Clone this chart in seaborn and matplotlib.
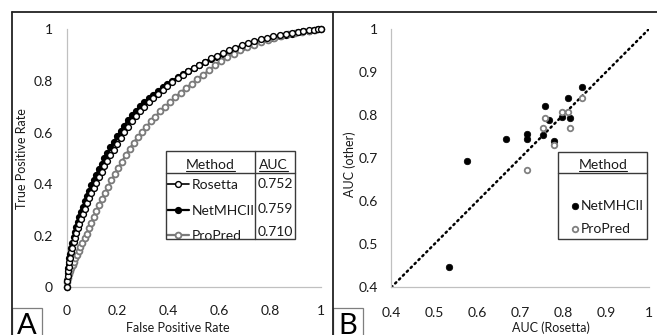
import matplotlib
matplotlib.use("Agg")
import matplotlib.pyplot as plt
import seaborn as sns
from matplotlib.lines import Line2D
from matplotlib.patches import Rectangle

# ---- panel A: ROC curves ----
rosetta_fpr = [0, 0.002, 0.004, 0.006, 0.008, 0.011, 0.014, 0.018, 0.022, 0.027, 0.032, 0.038,
               0.044, 0.050, 0.057, 0.064, 0.072, 0.080, 0.088, 0.097, 0.106, 0.116, 0.126,
               0.137, 0.148, 0.160, 0.172, 0.185, 0.198, 0.212, 0.226, 0.241, 0.256, 0.272,
               0.288, 0.305, 0.322, 0.340, 0.358, 0.377, 0.396, 0.416, 0.436, 0.457, 0.478,
               0.500, 0.522, 0.545, 0.568, 0.591, 0.615, 0.639, 0.663, 0.688, 0.713, 0.738,
               0.763, 0.788, 0.813, 0.838, 0.862, 0.886, 0.909, 0.931, 0.952, 0.971, 0.987, 1.0]
rosetta_tpr = [0, 0.025, 0.045, 0.062, 0.078, 0.097, 0.114, 0.135, 0.154, 0.175, 0.193, 0.212,
               0.230, 0.247, 0.266, 0.285, 0.305, 0.325, 0.345, 0.366, 0.386, 0.406, 0.427,
               0.448, 0.469, 0.490, 0.511, 0.533, 0.555, 0.578, 0.601, 0.622, 0.643, 0.663,
               0.682, 0.700, 0.717, 0.734, 0.750, 0.766, 0.781, 0.796, 0.810, 0.824, 0.838,
               0.851, 0.863, 0.875, 0.887, 0.898, 0.909, 0.919, 0.929, 0.938, 0.946, 0.954,
               0.961, 0.967, 0.973, 0.978, 0.983, 0.987, 0.991, 0.994, 0.997, 0.999, 1.0, 1.0]

netmhc_fpr = [0, 0.002, 0.004, 0.006, 0.008, 0.011, 0.014, 0.018, 0.022, 0.027, 0.032, 0.038,
              0.044, 0.050, 0.057, 0.064, 0.072, 0.080, 0.088, 0.097, 0.106, 0.116, 0.126,
              0.137, 0.148, 0.160, 0.172, 0.185, 0.198, 0.212, 0.226, 0.241, 0.256, 0.272,
              0.288, 0.305, 0.322, 0.340, 0.358, 0.377, 0.396, 0.416, 0.436, 0.457, 0.478,
              0.500, 0.522, 0.545, 0.568, 0.591, 0.615, 0.639, 0.663, 0.688, 0.713, 0.738,
              0.763, 0.788, 0.813, 0.838, 0.862, 0.886, 0.909, 0.931, 0.952, 0.971, 0.987, 1.0]
netmhc_tpr = [0, 0.030, 0.055, 0.074, 0.091, 0.112, 0.130, 0.152, 0.172, 0.194, 0.213, 0.234,
              0.254, 0.272, 0.292, 0.312, 0.333, 0.354, 0.374, 0.395, 0.416, 0.437, 0.458,
              0.479, 0.500, 0.521, 0.542, 0.564, 0.585, 0.606, 0.627, 0.647, 0.666, 0.684,
              0.701, 0.717, 0.732, 0.747, 0.761, 0.775, 0.788, 0.801, 0.814, 0.826, 0.838,
              0.850, 0.861, 0.872, 0.883, 0.893, 0.903, 0.913, 0.922, 0.931, 0.939, 0.947,
              0.954, 0.961, 0.967, 0.973, 0.978, 0.983, 0.988, 0.992, 0.995, 0.998, 1.0, 1.0]

propred_fpr = [0, 0.003, 0.006, 0.010, 0.014, 0.018, 0.023, 0.028, 0.034, 0.040, 0.047, 0.054,
               0.062, 0.070, 0.079, 0.088, 0.097, 0.107, 0.117, 0.128, 0.139, 0.151, 0.163,
               0.176, 0.189, 0.203, 0.217, 0.232, 0.247, 0.263, 0.279, 0.296, 0.313, 0.331,
               0.349, 0.368, 0.387, 0.407, 0.427, 0.448, 0.469, 0.491, 0.513, 0.536, 0.559,
               0.583, 0.607, 0.632, 0.657, 0.683, 0.709, 0.736, 0.763, 0.790, 0.817, 0.844,
               0.871, 0.898, 0.925, 0.952, 0.976, 1.0]
propred_tpr = [0, 0.020, 0.035, 0.050, 0.062, 0.073, 0.086, 0.098, 0.112, 0.126, 0.140, 0.155,
               0.172, 0.190, 0.208, 0.228, 0.250, 0.273, 0.297, 0.320, 0.343, 0.366, 0.390,
               0.415, 0.438, 0.463, 0.487, 0.512, 0.537, 0.560, 0.582, 0.602, 0.622, 0.643,
               0.662, 0.682, 0.700, 0.718, 0.737, 0.755, 0.772, 0.789, 0.806, 0.823, 0.841,
               0.860, 0.878, 0.893, 0.906, 0.919, 0.931, 0.941, 0.951, 0.960, 0.968, 0.975,
               0.981, 0.986, 0.991, 0.995, 0.998, 1.0]

methods = ["Rosetta", "NetMHCII", "ProPred"]
auc_text = ["0.752", "0.759", "0.710"]
roc_ticks = [0, 0.2, 0.4, 0.6, 0.8, 1]
roc_labels = ["0", "0.2", "0.4", "0.6", "0.8", "1"]

# ---- panel B: per-set AUC vs Rosetta ----
net_x = [0.534, 0.576, 0.667, 0.717, 0.717, 0.754, 0.758, 0.767, 0.779, 0.799, 0.813, 0.817, 0.845]
net_y = [0.447, 0.693, 0.746, 0.756, 0.744, 0.754, 0.822, 0.788, 0.741, 0.796, 0.841, 0.794, 0.865]
pro_x = [0.717, 0.754, 0.758, 0.779, 0.797, 0.813, 0.817, 0.845]
pro_y = [0.673, 0.770, 0.794, 0.731, 0.807, 0.807, 0.770, 0.841]
diag = [0.4, 1.0]
auc_ticks = [0.4, 0.5, 0.6, 0.7, 0.8, 0.9, 1]
auc_labels = ["0.4", "0.5", "0.6", "0.7", "0.8", "0.9", "1"]

W, H = 657, 335
GREY = "#7f7f7f"
TXT = "#1a1a1a"


def fx(px):
    return px / W


def fy(py):
    return 1 - py / H


sns.set_style("white")
plt.rcParams["font.family"] = ["Lato", "DejaVu Sans"]

fig = plt.figure(figsize=(W / 100, H / 100), dpi=100)
ax_a = fig.add_axes([fx(66.7), fy(287.3), (321 - 66.7) / W, 258 / H])
ax_b = fig.add_axes([fx(391.3), fy(287.3), (648.7 - 391.3) / W, 258 / H])

# ROC curves
sns.lineplot(x=netmhc_fpr, y=netmhc_tpr, ax=ax_a, color="black", linewidth=1.6, marker="o",
             markersize=4, markerfacecolor="black", markeredgecolor="black", markeredgewidth=1.2,
             estimator=None, sort=False, clip_on=False, zorder=3)
h_net = ax_a.lines[-1]
sns.lineplot(x=propred_fpr, y=propred_tpr, ax=ax_a, color="#7a7a7a", linewidth=1.6, marker="o",
             markersize=4.2, markerfacecolor="white", markeredgecolor="#7a7a7a", markeredgewidth=1.3,
             estimator=None, sort=False, clip_on=False, zorder=3)
h_pro = ax_a.lines[-1]
sns.lineplot(x=rosetta_fpr, y=rosetta_tpr, ax=ax_a, color="black", linewidth=1.2, marker="o",
             markersize=4.2, markerfacecolor="white", markeredgecolor="black", markeredgewidth=1.0,
             estimator=None, sort=False, clip_on=False, zorder=4)
h_ros = ax_a.lines[-1]

ax_a.set_xlim(0, 1)
ax_a.set_ylim(0, 1)
ax_a.set_xticks(roc_ticks, roc_labels)
ax_a.set_yticks(roc_ticks, roc_labels)
ax_a.set_xticks([0.1, 0.3, 0.5, 0.7, 0.9], minor=True)
ax_a.set_yticks([0.1, 0.3, 0.5, 0.7, 0.9], minor=True)

# scatter of AUCs
ax_b.plot(diag, diag, color="black", linestyle=(0, (0.6, 1.6)), linewidth=1.8,
          dash_capstyle="round", zorder=2)
sns.scatterplot(x=net_x, y=net_y, ax=ax_b, color="black", edgecolor="black", s=22,
                linewidth=0.5, label="NetMHCII", zorder=3)
sns.scatterplot(x=pro_x, y=pro_y, ax=ax_b, color="white", edgecolor="#808080", s=16,
                linewidth=1.3, label="ProPred", zorder=3)
ax_b.set_xlim(0.4, 1)
ax_b.set_ylim(0.4, 1)
ax_b.set_xticks(auc_ticks, auc_labels)
ax_b.set_yticks(auc_ticks, auc_labels)

for ax, xpad, ypad in [(ax_a, 10, 7), (ax_b, 11, 6.5)]:
    for side in ["top", "right"]:
        ax.spines[side].set_visible(False)
    for side in ["left", "bottom"]:
        ax.spines[side].set_color("#c0c0c0")
        ax.spines[side].set_linewidth(0.9)
    ax.tick_params(axis="both", which="both", direction="out", length=3, width=0.9,
                   color="#c0c0c0", labelsize=10, labelcolor=TXT)
    ax.tick_params(axis="x", which="major", pad=xpad)
    ax.tick_params(axis="y", which="major", pad=ypad)
    ax.set_xlabel("")
    ax.set_ylabel("")

# axis titles
fig.text(fx(178), fy(328.5), "False Positive Rate", ha="center", va="center", fontsize=9, color=TXT)
fig.text(fx(21.7), fy(158.5), "True Positive Rate", ha="center", va="center", rotation=90,
         fontsize=9, color=TXT)
fig.text(fx(551), fy(328), "AUC (Rosetta)", ha="center", va="center", fontsize=9, color=TXT)
fig.text(fx(350), fy(164.5), "AUC (other)", ha="center", va="center", rotation=90,
         fontsize=9, color=TXT)

# legend table, panel A
box_col = "#3a3a3a"
fig.add_artist(Rectangle((fx(166), fy(239)), (295 - 166) / W, (239 - 151) / H, fill=False,
                         edgecolor=box_col, linewidth=1.0, transform=fig.transFigure, zorder=6))
fig.add_artist(Line2D([fx(166), fx(295)], [fy(173.3), fy(173.3)], color=box_col, linewidth=1.0))
fig.add_artist(Line2D([fx(255), fx(255)], [fy(151), fy(239)], color=box_col, linewidth=1.0))
t_meth_a = fig.text(fx(210.5), fy(165), "Method", ha="center", va="center", fontsize=10, color=TXT)
t_auc = fig.text(fx(273.7), fy(165), "AUC", ha="center", va="center", fontsize=10, color=TXT)
leg_a = ax_a.legend([h_ros, h_net, h_pro], methods, loc="upper left",
                    bbox_to_anchor=(fx(165), fy(177)), bbox_transform=fig.transFigure,
                    frameon=False, fontsize=10, handlelength=1.6, handletextpad=0.15,
                    labelspacing=0.97, borderpad=0.15, borderaxespad=0, labelcolor=TXT)
for yy, txt in zip([183.7, 209, 231.7], auc_text):
    fig.text(fx(257.5), fy(yy), txt, ha="left", va="center", fontsize=10, color=TXT)

# legend box, panel B
fig.add_artist(Rectangle((fx(558), fy(239)), (647 - 558) / W, (239 - 152) / H, fill=False,
                         edgecolor=box_col, linewidth=1.0, transform=fig.transFigure, zorder=6))
fig.add_artist(Line2D([fx(558), fx(647)], [fy(173.3), fy(173.3)], color=box_col, linewidth=1.0))
t_meth_b = fig.text(fx(603), fy(165), "Method", ha="center", va="center", fontsize=10, color=TXT)
handles_b, labels_b = ax_b.get_legend_handles_labels()
ax_b.legend(handles_b, labels_b, loc="upper left", bbox_to_anchor=(fx(572), fy(200)),
            bbox_transform=fig.transFigure, frameon=False, fontsize=10, handlelength=0.5,
            handletextpad=0.15, labelspacing=0.76, borderpad=0, borderaxespad=0,
            scatterpoints=1, labelcolor=TXT)

# underline the headers
fig.canvas.draw()
rend = fig.canvas.get_renderer()
for t in [t_meth_a, t_auc, t_meth_b]:
    bb = t.get_window_extent(rend)
    fig.add_artist(Line2D([bb.x0 / W, bb.x1 / W], [fy(171), fy(171)], color=TXT, linewidth=0.8))

# panel letters and outer frame
for x0, x1, letter in [(12.3, 41.7, "A"), (333.3, 363.3, "B")]:
    fig.add_artist(Rectangle((fx(x0), fy(340)), (x1 - x0) / W, (340 - 308.3) / H, fill=False,
                             edgecolor=GREY, linewidth=0.9, transform=fig.transFigure))
    fig.text(fx((x0 + x1) / 2), fy(334), letter, ha="center", va="baseline", fontsize=21,
             color="black")

frame = "#222222"
fig.add_artist(Line2D([fx(11.5), fx(657)], [fy(11.5), fy(11.5)], color=frame, linewidth=1.3))
fig.add_artist(Line2D([fx(12.3), fx(12.3)], [fy(11.5), fy(340)], color=frame, linewidth=1.3))
fig.add_artist(Line2D([fx(332.7), fx(332.7)], [fy(11.5), fy(340)], color=frame, linewidth=1.3))

fig.savefig("out.png", dpi=100)
